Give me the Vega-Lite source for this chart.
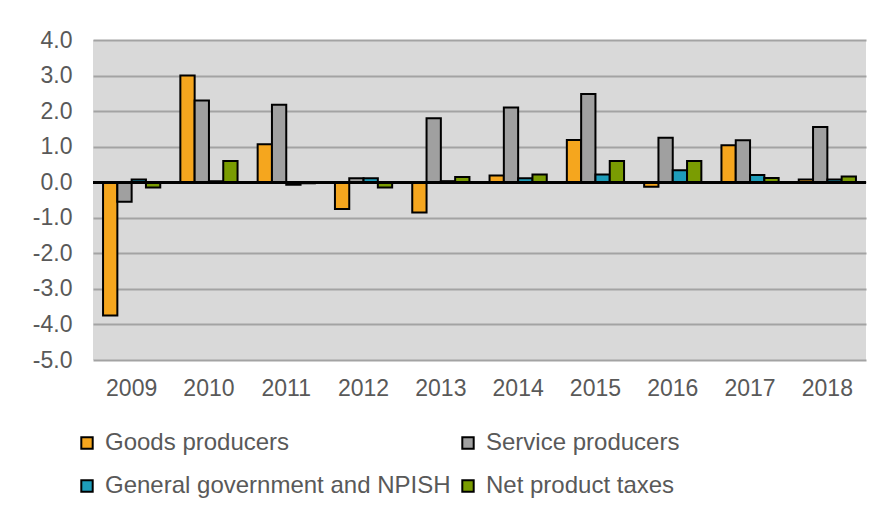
{
  "$schema": "https://vega.github.io/schema/vega-lite/v6.json",
  "width": 773,
  "height": 320,
  "autosize": "none",
  "padding": {"left": 93, "top": 40, "right": 19, "bottom": 156},
  "background": "white",
  "config": {
    "font": "Liberation Sans",
    "view": {"fill": "#D9D9D9", "stroke": null},
    "axis": {"labelFont": "Liberation Sans", "labelFontSize": 23, "labelColor": "#595959", "domain": false, "ticks": false, "title": null, "labelOverlap": false}
  },
  "data": {
    "values": [
      {"year": "2009", "series": "Goods producers", "value": -3.75},
      {"year": "2009", "series": "Service producers", "value": -0.55},
      {"year": "2009", "series": "General government and NPISH", "value": 0.08},
      {"year": "2009", "series": "Net product taxes", "value": -0.15},
      {"year": "2010", "series": "Goods producers", "value": 3.0},
      {"year": "2010", "series": "Service producers", "value": 2.3},
      {"year": "2010", "series": "General government and NPISH", "value": 0.03},
      {"year": "2010", "series": "Net product taxes", "value": 0.6},
      {"year": "2011", "series": "Goods producers", "value": 1.07},
      {"year": "2011", "series": "Service producers", "value": 2.18},
      {"year": "2011", "series": "General government and NPISH", "value": -0.07},
      {"year": "2011", "series": "Net product taxes", "value": -0.03},
      {"year": "2012", "series": "Goods producers", "value": -0.75},
      {"year": "2012", "series": "Service producers", "value": 0.11},
      {"year": "2012", "series": "General government and NPISH", "value": 0.11},
      {"year": "2012", "series": "Net product taxes", "value": -0.15},
      {"year": "2013", "series": "Goods producers", "value": -0.85},
      {"year": "2013", "series": "Service producers", "value": 1.8},
      {"year": "2013", "series": "General government and NPISH", "value": 0.03},
      {"year": "2013", "series": "Net product taxes", "value": 0.15},
      {"year": "2014", "series": "Goods producers", "value": 0.19},
      {"year": "2014", "series": "Service producers", "value": 2.1},
      {"year": "2014", "series": "General government and NPISH", "value": 0.11},
      {"year": "2014", "series": "Net product taxes", "value": 0.22},
      {"year": "2015", "series": "Goods producers", "value": 1.19},
      {"year": "2015", "series": "Service producers", "value": 2.48},
      {"year": "2015", "series": "General government and NPISH", "value": 0.22},
      {"year": "2015", "series": "Net product taxes", "value": 0.6},
      {"year": "2016", "series": "Goods producers", "value": -0.13},
      {"year": "2016", "series": "Service producers", "value": 1.25},
      {"year": "2016", "series": "General government and NPISH", "value": 0.34},
      {"year": "2016", "series": "Net product taxes", "value": 0.6},
      {"year": "2017", "series": "Goods producers", "value": 1.04},
      {"year": "2017", "series": "Service producers", "value": 1.18},
      {"year": "2017", "series": "General government and NPISH", "value": 0.2},
      {"year": "2017", "series": "Net product taxes", "value": 0.12},
      {"year": "2018", "series": "Goods producers", "value": 0.08},
      {"year": "2018", "series": "Service producers", "value": 1.55},
      {"year": "2018", "series": "General government and NPISH", "value": 0.08},
      {"year": "2018", "series": "Net product taxes", "value": 0.16}
    ]
  },
  "layer": [
    {
      "mark": {"type": "bar", "stroke": "black", "strokeWidth": 2},
      "encoding": {
        "x": {
          "field": "year", "type": "nominal",
          "scale": {"paddingInner": 0.26, "paddingOuter": 0.13},
          "axis": {"labelAngle": 0, "labelPadding": 17, "grid": false}
        },
        "xOffset": {
          "field": "series", "type": "nominal",
          "sort": ["Goods producers", "Service producers", "General government and NPISH", "Net product taxes"],
          "scale": {"paddingInner": 0, "paddingOuter": 0}
        },
        "y": {
          "field": "value", "type": "quantitative",
          "scale": {"domain": [-5, 4], "nice": false, "zero": false},
          "axis": {"values": [-5, -4, -3, -2, -1, 0, 1, 2, 3, 4], "tickCount": 20, "labelExpr": "replace(format(datum.value, '.1f'), '\u2212', '-')", "labelOverlap": false, "labelBound": false, "labelFlush": false, "labelPadding": 21, "grid": true, "gridColor": "#A3A3A3", "gridWidth": 2}
        },
        "color": {
          "field": "series", "type": "nominal",
          "scale": {
            "domain": ["Goods producers", "General government and NPISH", "Service producers", "Net product taxes"],
            "range": ["#F5A61E", "#1E9DBA", "#A0A0A0", "#7A9C02"]
          },
          "legend": {
            "title": null,
            "orient": "none",
            "legendX": -18,
            "legendY": 391,
            "columns": 2,
            "columnPadding": 5,
            "rowPadding": 19,
            "padding": 0,
            "symbolType": "square",
            "symbolSize": 130,
            "symbolStrokeColor": "black",
            "symbolStrokeWidth": 2,
            "labelFont": "Liberation Sans",
            "labelFontSize": 24,
            "labelColor": "#595959",
            "labelOffset": 6,
            "labelLimit": 500
          }
        }
      }
    },
    {
      "mark": {"type": "rule", "color": "black", "strokeWidth": 2},
      "encoding": {"y": {"datum": 0}}
    }
  ]
}
